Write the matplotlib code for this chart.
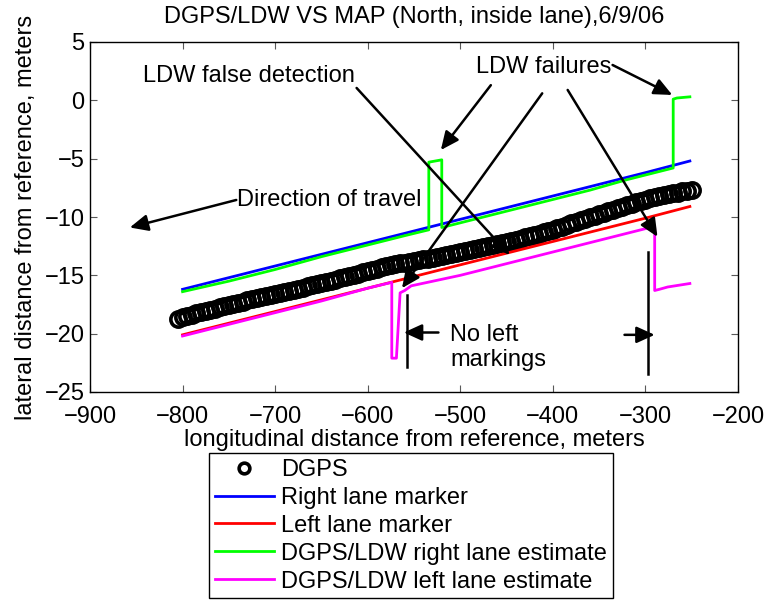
import matplotlib
matplotlib.use("Agg")
import matplotlib.pyplot as plt

plt.rcParams['font.family'] = ['Liberation Sans', 'DejaVu Sans']

# DGPS vehicle track (longitudinal, lateral), meters
dgps_x = [-805, -800, -795, -790, -785, -780, -775, -770, -765, -760,
          -755, -750, -745, -740, -735, -730, -725, -720, -715, -710,
          -705, -700, -695, -690, -685, -680, -675, -670, -665, -660,
          -655, -650, -645, -640, -635, -630, -625, -620, -615, -610,
          -605, -600, -595, -590, -585, -580, -575, -570, -565, -560,
          -555, -550, -545, -540, -535, -530, -525, -520, -515, -510,
          -505, -500, -495, -490, -485, -480, -475, -470, -465, -460,
          -455, -450, -445, -440, -435, -430, -425, -420, -415, -410,
          -405, -400, -395, -390, -385, -380, -375, -370, -365, -360,
          -355, -350, -345, -340, -335, -330, -325, -320, -315, -310,
          -305, -300, -295, -290, -285, -280, -275, -270, -265, -260,
          -255, -250]
dgps_y = [-18.70, -18.60, -18.47, -18.37, -18.27, -18.15, -18.06, -17.95, -17.86, -17.74,
          -17.65, -17.55, -17.46, -17.34, -17.25, -17.15, -17.07, -16.96, -16.88, -16.78,
          -16.70, -16.60, -16.53, -16.42, -16.33, -16.25, -16.14, -16.05, -15.94, -15.86,
          -15.75, -15.66, -15.54, -15.45, -15.36, -15.25, -15.14, -15.05, -14.96, -14.85,
          -14.75, -14.63, -14.53, -14.43, -14.30, -14.21, -14.12, -14.06, -13.98, -13.92,
          -13.84, -13.78, -13.70, -13.64, -13.56, -13.50, -13.40, -13.32, -13.24, -13.13,
          -13.05, -12.96, -12.90, -12.80, -12.73, -12.64, -12.58, -12.48, -12.41, -12.32,
          -12.25, -12.14, -12.06, -11.94, -11.86, -11.75, -11.65, -11.52, -11.43, -11.30,
          -11.20, -11.08, -10.93, -10.82, -10.67, -10.55, -10.43, -10.28, -10.17, -10.02,
          -9.90, -9.78, -9.63, -9.52, -9.37, -9.25, -9.13, -8.98, -8.87, -8.72,
          -8.60, -8.51, -8.39, -8.31, -8.19, -8.10, -8.04, -7.95, -7.90, -7.81,
          -7.75, -7.70]

# Surveyed lane markers from the map
right_marker_x = [-800, -700, -600, -500, -400, -300, -252]
right_marker_y = [-16.2, -14.2, -12.2, -10.2, -8.2, -6.2, -5.2]
left_marker_x = [-800, -700, -600, -500, -400, -300, -252]
left_marker_y = [-20.1, -18.1, -16.1, -14.1, -12.1, -10.1, -9.1]

# DGPS/LDW lane estimates
ldw_right_x = [-800, -750, -700, -650, -600, -560, -534, -534, -520, -520,
               -480, -440, -400, -360, -320, -280, -270, -270, -266, -252]
ldw_right_y = [-16.4, -15.5, -14.5, -13.4, -12.4, -11.6, -11.1, -5.3, -5.1, -10.9,
               -10.1, -9.3, -8.5, -7.7, -6.8, -6.0, -5.8, 0.1, 0.2, 0.3]
ldw_left_x = [-800, -750, -700, -650, -600, -574, -574, -569, -565, -560,
              -553, -500, -450, -400, -350, -300, -292, -290, -290, -285,
              -276, -252]
ldw_left_y = [-20.2, -19.2, -18.2, -17.2, -16.1, -15.6, -22.1, -22.1, -16.5, -16.3,
              -15.9, -15.0, -14.0, -13.0, -12.0, -11.0, -10.8, -10.9, -16.3, -16.2,
              -16.0, -15.7]

x_ticks = [-900, -800, -700, -600, -500, -400, -300, -200]
y_ticks = [5, 0, -5, -10, -15, -20, -25]

FS = 17

fig = plt.figure(figsize=(7.65, 6.06), dpi=100)
ax = fig.add_axes([90 / 765, 214 / 606, 648 / 765, 350 / 606])

ax.plot(dgps_x, dgps_y, 'o', mfc='none', mec='k', ms=11, mew=2.6, label='DGPS')
ax.plot(right_marker_x, right_marker_y, color=(0, 0, 1), lw=2, label='Right lane marker')
ax.plot(left_marker_x, left_marker_y, color=(1, 0, 0), lw=2, label='Left lane marker')
ax.plot(ldw_right_x, ldw_right_y, color=(0, 1, 0), lw=2,
        label='DGPS/LDW right lane estimate')
ax.plot(ldw_left_x, ldw_left_y, color=(1, 0, 1), lw=2,
        label='DGPS/LDW left lane estimate')

ax.set_xlim(-900, -200)
ax.set_ylim(-25, 5)
ax.set_xticks(x_ticks)
ax.set_yticks(y_ticks)
ax.tick_params(direction='in', top=True, right=True, length=5, width=0.8,
               labelsize=FS, color='0.35')
ax.tick_params(axis='x', pad=10)
ax.tick_params(axis='y', pad=4)
for s in ax.spines.values():
    s.set_linewidth(1.0)

ax.set_title('DGPS/LDW VS MAP (North, inside lane),6/9/06', fontsize=FS, pad=14)
ax.set_xlabel('longitudinal distance from reference, meters', fontsize=FS, labelpad=1)
ax.set_ylabel('lateral distance from reference, meters', fontsize=FS, labelpad=5)

# Callout text
ax.text(-843, 2.1, 'LDW false detection', fontsize=FS, va='center', ha='left')
ax.text(-483, 2.86, 'LDW failures', fontsize=FS, va='center', ha='left')
ax.text(-741, -8.5, 'Direction of travel', fontsize=FS, va='center', ha='left')
ax.text(-511, -21.2, 'No left\nmarkings', fontsize=FS, va='center', ha='left',
        linespacing=1.2)

arrow_style = '-|>,head_length=0.55,head_width=0.25'


def arrow(tail, head):
    ax.annotate('', xy=head, xytext=tail,
                arrowprops=dict(arrowstyle=arrow_style, color='k', lw=1.8,
                                shrinkA=0, shrinkB=0, mutation_scale=20))


arrow((-742, -8.54), (-857, -10.9))
arrow((-612, 1.06), (-446.6, -13.26))
arrow((-467, 1.3), (-521, -4.26))
arrow((-411.5, 0.6), (-563, -16.1))
arrow((-384, 0.89), (-287, -11.7))
arrow((-335.5, 3.03), (-271, 0.46))
arrow((-523.6, -19.9), (-561, -19.9))
arrow((-322.6, -20.1), (-290, -20.1))

# Extent bars for the stretch without left markings
ax.plot([-558, -558], [-16.7, -22.9], color='k', lw=1.8)
ax.plot([-297, -297], [-13.0, -23.5], color='k', lw=1.8)

leg = fig.legend(loc='upper left', bbox_to_anchor=(209 / 765, 1 - 453 / 606),
                 borderaxespad=0, fontsize=FS, frameon=True, fancybox=False,
                 edgecolor='k', framealpha=1, handlelength=2.5, markerscale=0.7,
                 handletextpad=0.3, borderpad=0.25, labelspacing=0.25)
leg.get_frame().set_linewidth(1.0)

fig.savefig('out.png', dpi=100)
